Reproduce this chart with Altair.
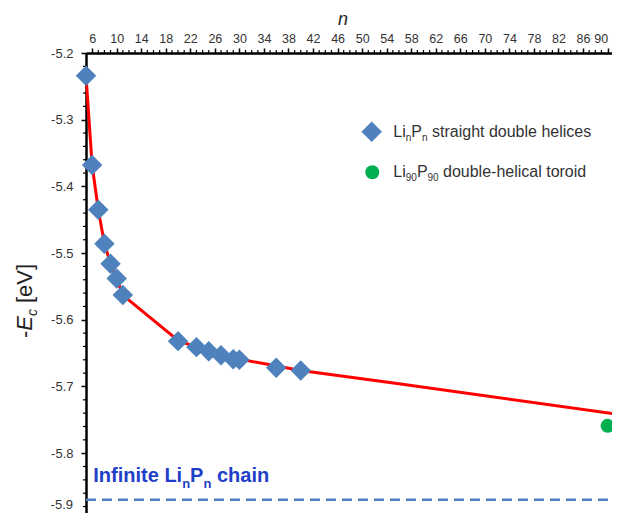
import altair as alt
import pandas as pd

# ---- data ----
helix_n = [5, 6, 7, 8, 9, 10, 11, 20, 23, 25, 27, 29, 30, 36, 40]
helix_e = [-5.234, -5.368, -5.435, -5.486, -5.516, -5.538, -5.563,
           -5.632, -5.641, -5.647, -5.653, -5.659, -5.660, -5.672, -5.676]
fit_n = [5, 6, 7, 8, 9, 10, 11, 20, 25, 30, 40, 56, 92]
fit_e = [-5.234, -5.368, -5.435, -5.486, -5.516, -5.538, -5.563,
         -5.631, -5.648, -5.659, -5.676, -5.696, -5.742]
toroid_n = [90]
toroid_e = [-5.759]
infinite_e = [-5.870]

x_ticks = list(range(6, 91, 4))
x_minor = [v for v in range(6, 91) if (v - 6) % 4 != 0]
y_ticks = [-5.2, -5.3, -5.4, -5.5, -5.6, -5.7, -5.8]
y_last_label = "-5.9"
y_minor = [round(-5.2 - 0.02 * k, 2) for k in range(35) if k % 5 != 0]

X_DOM = [5, 90.72]
Y_DOM = [-5.8897, -5.2]
FONT = "Liberation Sans"

helix = pd.DataFrame({"n": helix_n, "e": helix_e})
fit = pd.DataFrame({"n": fit_n, "e": fit_e})
toroid = pd.DataFrame({"n": toroid_n, "e": toroid_e})
inf_df = pd.DataFrame({"e": infinite_e})

xs = alt.Scale(domain=X_DOM, nice=False, zero=False)
ys = alt.Scale(domain=Y_DOM, nice=False, zero=False)

x_axis = alt.Axis(orient="top", values=x_ticks, title=None, grid=False,
                  domainColor="black", domainWidth=2.5, tickColor="black",
                  tickSize=5, tickWidth=1.5, labelFontSize=12.5, labelColor="#333",
                  labelFont=FONT, labelPadding=3, labelOverlap=False,
                  labelSeparation=0, labelFlush=False,
                  labelAlign={"expr": "datum.value == 90 ? 'right' : 'center'"})
y_axis = alt.Axis(values=y_ticks, title=None, grid=False,
                  labelExpr="'-' + format(abs(datum.value), '.1f')",
                  domainColor="black", domainWidth=2.5, tickColor="black",
                  tickSize=5, tickWidth=1.5, labelFontSize=13, labelColor="#333",
                  labelFont=FONT, labelPadding=8, labelOverlap=False, labelFlush=False)

X = lambda: alt.X("n:Q", scale=xs, axis=x_axis)
Y = lambda: alt.Y("e:Q", scale=ys, axis=y_axis)

line = alt.Chart(fit).mark_line(color="#ff0000", strokeWidth=3).encode(x=X(), y=Y())
pts = alt.Chart(helix).mark_point(shape="diamond", filled=True, size=420,
                                   color="#4f81bd", opacity=1).encode(x=X(), y=Y())
tor = alt.Chart(toroid).mark_point(shape="circle", filled=True, size=196,
                                   color="#00b050", opacity=1).encode(x=X(), y=Y())
dash = alt.Chart(inf_df).mark_rule(color="#4f81bd", strokeWidth=2.5,
                                   strokeDash=[10, 6]).encode(
    y=Y(), x=alt.value(0), x2=alt.value(540))

xm = alt.Chart(pd.DataFrame({"n": x_minor})).mark_rule(color="black", strokeWidth=1.2).encode(
    x=X(), y=alt.value(-3), y2=alt.value(0))
ym = alt.Chart(pd.DataFrame({"e": y_minor})).mark_rule(color="black", strokeWidth=1.2).encode(
    y=Y(), x=alt.value(-3), x2=alt.value(0))


def txt(s, x, y, size, color="#333", style="normal", weight="normal", angle=0, align="left"):
    kw = dict(align=align, baseline="alphabetic", fontSize=size, font=FONT,
              color=color, fontStyle=style, fontWeight=weight)
    if angle:
        kw["angle"] = angle
    return alt.Chart(pd.DataFrame({"t": [s]})).mark_text(**kw).encode(
        text="t:N", x=alt.value(x), y=alt.value(y))


OX, OY = 86, 53
texts = []
# last y label (kept inside the visible page)
texts.append(txt(y_last_label, 73 - OX, 509 - OY, 13, align="right"))
# axis titles
texts.append(txt("n", 343 - OX - 5, 25 - OY, 18, style="italic", color="#222"))
texts.append(txt("-", 32 - OX, 338 - OY, 22, angle=270, color="#222"))
texts.append(txt("E", 32 - OX, 330.7 - OY, 22, style="italic", angle=270, color="#222"))
texts.append(txt("c", 37 - OX, 316 - OY, 14, style="italic", angle=270, color="#222"))
texts.append(txt("[eV]", 32 - OX, 303 - OY, 22, angle=270, color="#222"))

# legend
texts.append(alt.Chart(pd.DataFrame({"k": [0]})).mark_point(
    shape="diamond", filled=True, size=420, color="#4f81bd", opacity=1).encode(
    x=alt.value(371.7 - OX), y=alt.value(131.7 - OY)))
texts.append(alt.Chart(pd.DataFrame({"k": [0]})).mark_point(
    shape="circle", filled=True, size=196, color="#00b050", opacity=1).encode(
    x=alt.value(372.3 - OX), y=alt.value(172.3 - OY)))
b1, b2 = 136.5 - OY, 176.7 - OY
texts += [
    txt("Li", 393.3 - OX, b1, 16), txt("n", 405.75 - OX, b1 + 4, 10),
    txt("P", 411.3 - OX, b1, 16), txt("n", 421.97 - OX, b1 + 4, 10),
    txt("straight double helices", 432 - OX, b1, 16),
    txt("Li", 393.3 - OX, b2, 16), txt("90", 405.75 - OX, b2 + 4, 10),
    txt("P", 416.9 - OX, b2, 16), txt("90", 427.5 - OX, b2 + 4, 10),
    txt("double-helical toroid", 443 - OX, b2, 16),
]
# infinite chain label
BLUE = "#1f3fc8"
bi = 481.7 - OY
texts += [
    txt("Infinite Li", 93.3 - OX, bi, 20, color=BLUE, weight="bold"),
    txt("n", 182.2 - OX, bi + 6, 13, color=BLUE, weight="bold"),
    txt("P", 190.1 - OX, bi, 20, color=BLUE, weight="bold"),
    txt("n", 203.5 - OX, bi + 6, 13, color=BLUE, weight="bold"),
    txt("chain", 217 - OX, bi, 20, color=BLUE, weight="bold"),
]

chart = alt.layer(line, dash, xm, ym, pts, tor, *texts).properties(
    width=526, height=460,
    padding={"left": 78, "top": 45, "right": 0, "bottom": 0},
    autosize=alt.AutoSizeParams(type="none"),
).configure_view(stroke=None).configure(background="white").configure_axis(
    labelOverlap=False, labelFlush=False)

chart.save("out.html", embed_options={"renderer": "svg", "actions": False})
